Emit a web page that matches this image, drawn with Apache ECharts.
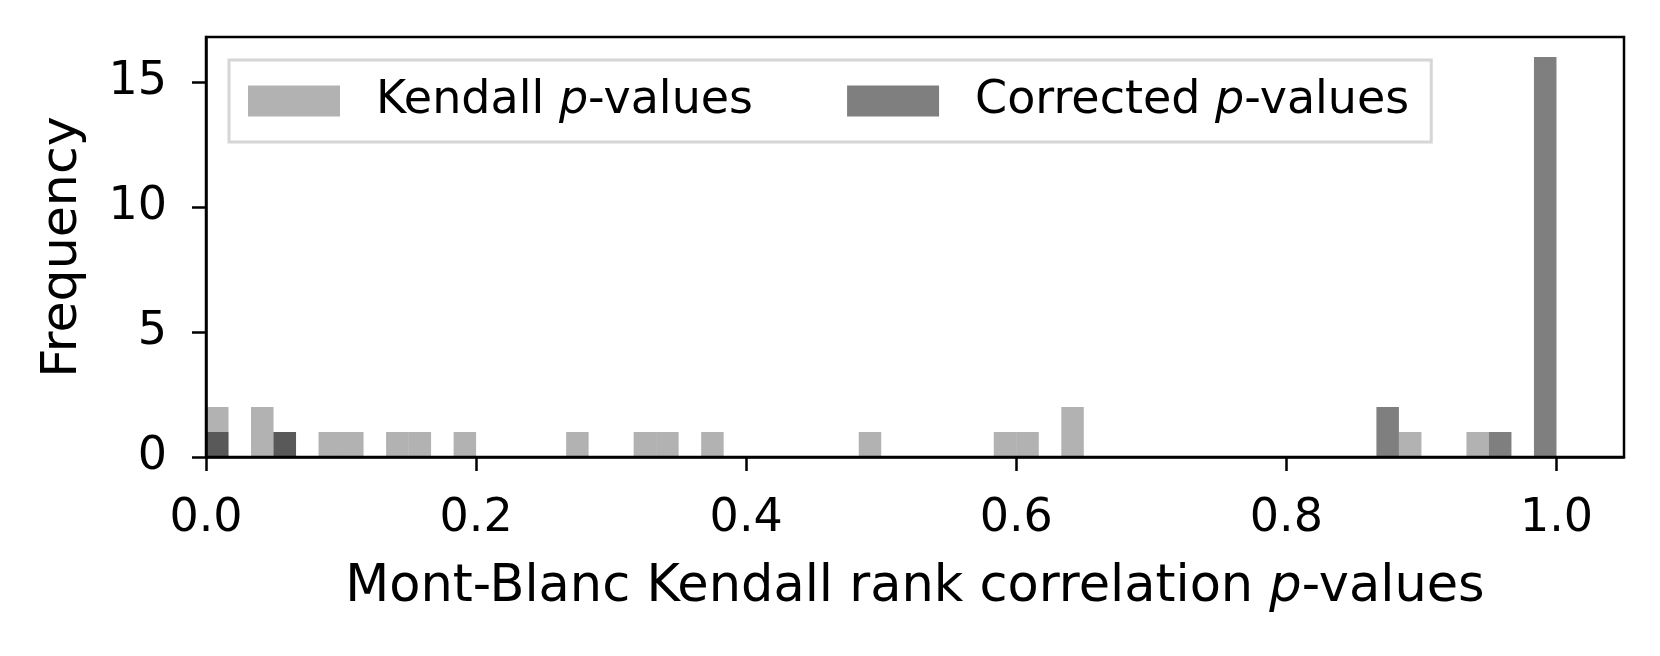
<!DOCTYPE html>
<html>
<head>
<meta charset="utf-8">
<script src="https://cdn.jsdelivr.net/npm/echarts@6/dist/echarts.min.js"></script>
<style>
html,body{margin:0;padding:0;background:#fff;}
#chart{width:1660px;height:656px;}
</style>
</head>
<body>
<div id="chart"></div>
<script>
// Histogram: 60 equal bins over [0, 1]
const binCount = 60;
const binLow = 0;
const binHigh = 1;
// Frequency per bin (index 0..59)
const kendallCounts = [
  2,0,2,1,0,1,1,0,1,1,
  0,1,0,0,0,0,1,0,0,1,
  1,0,1,0,0,0,0,0,0,1,
  0,0,0,0,0,1,1,0,2,0,
  0,0,0,0,0,0,0,0,0,0,
  0,0,0,1,0,0,1,0,0,0
];
const correctedCounts = [
  1,0,0,1,0,0,0,0,0,0,
  0,0,0,0,0,0,0,0,0,0,
  0,0,0,0,0,0,0,0,0,0,
  0,0,0,0,0,0,0,0,0,0,
  0,0,0,0,0,0,0,0,0,0,
  0,0,2,0,0,0,0,1,0,16
];
const xTicks = [0, 0.2, 0.4, 0.6, 0.8, 1.0];
const yTicks = [0, 5, 10, 15];
const seriesNames = ['Kendall p-values', 'Corrected p-values'];

function toBins(counts) {
  const w = (binHigh - binLow) / binCount;
  const out = [];
  counts.forEach((c, i) => {
    if (c > 0) out.push([binLow + i * w, binLow + (i + 1) * w, c]);
  });
  return out;
}

function renderBar(params, api) {
  const p0 = api.coord([api.value(0), 0]);
  const p1 = api.coord([api.value(1), api.value(2)]);
  return {
    type: 'rect',
    shape: { x: p0[0], y: p1[1], width: p1[0] - p0[0], height: p0[1] - p1[1] },
    style: api.style()
  };
}

const FONT = 'DejaVu Sans';
const chart = echarts.init(document.getElementById('chart'), null, { renderer: 'canvas' });

const legendRich = {
  n: { fontFamily: FONT, fontSize: 46, color: '#000' },
  i: { fontFamily: FONT, fontSize: 46, color: '#000', fontStyle: 'italic' }
};

chart.setOption({
  animation: false,
  backgroundColor: '#fff',
  textStyle: { fontFamily: FONT },
  grid: {
    left: 206, right: 36, top: 37, bottom: 199,
    show: true, borderColor: '#000', borderWidth: 2.5, backgroundColor: 'transparent'
  },
  legend: {
    left: 229, top: 60,
    orient: 'horizontal',
    itemWidth: 92, itemHeight: 31, itemGap: 94,
    padding: [18, 22, 18, 19],
    borderColor: '#d6d6d6', borderWidth: 3, borderRadius: 0,
    backgroundColor: '#fff',
    icon: 'rect',
    data: seriesNames,
    formatter: function (name) {
      const base = name.replace(' p-values', '');
      return '{n|' + base + ' }{i|p}{n|-values}';
    },
    textStyle: { fontFamily: FONT, fontSize: 46, color: '#000', padding: [0, 0, 0, 31], lineHeight: 40, rich: legendRich }
  },
  xAxis: {
    type: 'value', min: 0, max: 1.05,
    name: 'Mont-Blanc Kendall rank correlation {i|p}-values',
    nameLocation: 'middle', nameGap: 105,
    nameTextStyle: {
      fontFamily: FONT, fontSize: 51, color: '#000',
      rich: { i: { fontFamily: FONT, fontSize: 51, color: '#000', fontStyle: 'italic' } }
    },
    splitLine: { show: false },
    axisLine: { show: true, lineStyle: { color: '#000', width: 2.5 } },
    axisTick: { show: true, customValues: xTicks, length: 14, lineStyle: { color: '#000', width: 2.5 } },
    axisLabel: {
      customValues: xTicks, margin: 39, fontFamily: FONT, fontSize: 46, color: '#000',
      formatter: v => v.toFixed(1)
    }
  },
  yAxis: {
    type: 'value', min: 0, max: 16.8,
    name: 'Frequency', nameLocation: 'middle', nameGap: 118,
    nameTextStyle: { fontFamily: FONT, fontSize: 50.6, color: '#000' },
    splitLine: { show: false },
    axisLine: { show: true, lineStyle: { color: '#000', width: 2.5 } },
    axisTick: { show: true, customValues: yTicks, length: 14, lineStyle: { color: '#000', width: 2.5 } },
    axisLabel: {
      customValues: yTicks, margin: 39, fontFamily: FONT, fontSize: 46, color: '#000',
      formatter: v => String(v)
    }
  },
  series: [
    {
      name: seriesNames[0], type: 'custom', renderItem: renderBar,
      itemStyle: { color: 'rgba(0,0,0,0.3)' },
      encode: { x: [0, 1], y: 2 },
      data: toBins(kendallCounts), z: 2
    },
    {
      name: seriesNames[1], type: 'custom', renderItem: renderBar,
      itemStyle: { color: 'rgba(0,0,0,0.5)' },
      encode: { x: [0, 1], y: 2 },
      data: toBins(correctedCounts), z: 3
    }
  ]
});
</script>
</body>
</html>
